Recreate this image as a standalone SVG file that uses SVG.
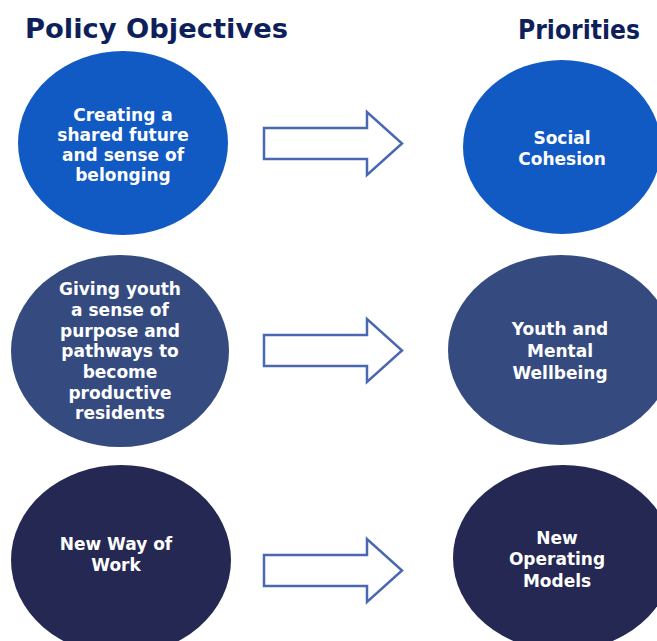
<svg xmlns="http://www.w3.org/2000/svg" width="657" height="641" viewBox="0 0 657 641">
<style>
.title{font-family:"DejaVu Sans","Liberation Sans",sans-serif;font-weight:bold;font-size:26px;fill:#0e1f5b}
.lbl{font-family:"DejaVu Sans","Liberation Sans",sans-serif;font-weight:bold;font-size:17px;fill:#ffffff;text-anchor:middle}
.c1{fill:#125ac3}
.c2{fill:#354b80}
.c3{fill:#252852}
.arrow{fill:#ffffff;stroke:#4a68b2;stroke-width:2.5;stroke-linejoin:miter}
</style>
<rect width="657" height="641" fill="#ffffff"/>
<text class="title" x="25" y="38" textLength="263" lengthAdjust="spacingAndGlyphs">Policy Objectives</text>
<text class="title" x="518" y="39" textLength="122" lengthAdjust="spacingAndGlyphs">Priorities</text>
<g id="obj1"><ellipse class="c1" cx="123" cy="143" rx="105" ry="92"/>
<text class="lbl" x="123" y="121">Creating a</text><text class="lbl" x="123" y="141">shared future</text><text class="lbl" x="123" y="161">and sense of</text><text class="lbl" x="123" y="181">belonging</text></g>
<g id="pri1"><ellipse class="c1" cx="562" cy="147" rx="99" ry="87"/>
<text class="lbl" x="562" y="144">Social</text><text class="lbl" x="562" y="165">Cohesion</text></g>
<g id="obj2"><ellipse class="c2" cx="120" cy="351" rx="109" ry="96"/>
<text class="lbl" x="120" y="295">Giving youth</text><text class="lbl" x="120" y="316">a sense of</text><text class="lbl" x="120" y="337">purpose and</text><text class="lbl" x="120" y="357">pathways to</text><text class="lbl" x="120" y="378">become</text><text class="lbl" x="120" y="399">productive</text><text class="lbl" x="120" y="419">residents</text></g>
<g id="pri2"><ellipse class="c2" cx="561" cy="350" rx="113" ry="95"/>
<text class="lbl" x="560" y="335">Youth and</text><text class="lbl" x="560" y="357">Mental</text><text class="lbl" x="560" y="379">Wellbeing</text></g>
<g id="obj3"><ellipse class="c3" cx="121" cy="560" rx="110" ry="95"/>
<text class="lbl" x="116" y="550">New Way of</text><text class="lbl" x="116" y="571">Work</text></g>
<g id="pri3"><ellipse class="c3" cx="563" cy="558" rx="110" ry="93"/>
<text class="lbl" x="557" y="544">New</text><text class="lbl" x="557" y="565">Operating</text><text class="lbl" x="557" y="587">Models</text></g>
<g id="connectors">
<path class="arrow" d="M264 128 H367 V112 L402 143.5 L367 175 V159 H264 Z"/>
<path class="arrow" d="M264 335 H367 V319 L402 350.5 L367 382 V366 H264 Z"/>
<path class="arrow" d="M264 555 H367 V539 L402 570.5 L367 602 V586 H264 Z"/>
</g>
</svg>
